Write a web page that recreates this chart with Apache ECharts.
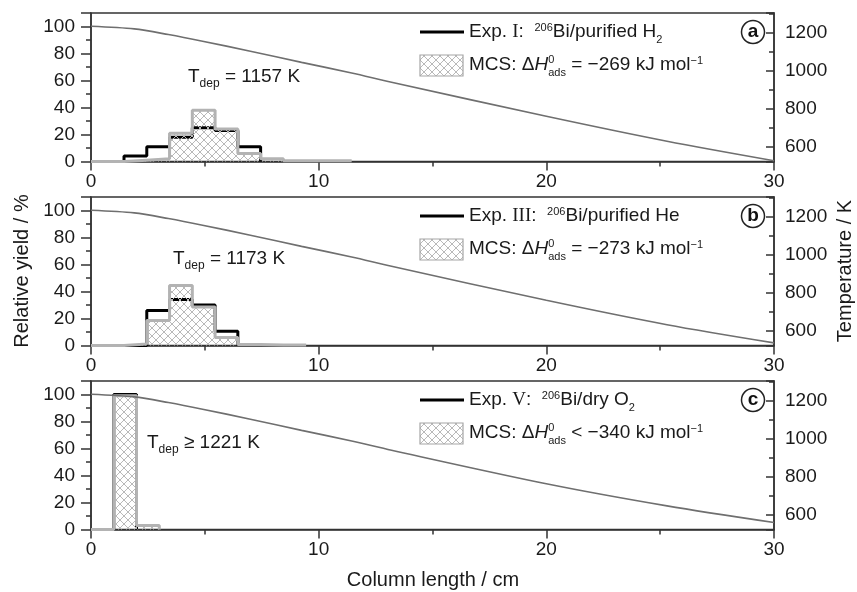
<!DOCTYPE html>
<html>
<head>
<meta charset="utf-8">
<script src="https://cdn.jsdelivr.net/npm/echarts@6/dist/echarts.min.js"></script>
<style>
html, body { margin: 0; padding: 0; background: #fff; }
#main { width: 857px; height: 592px; }
</style>
</head>
<body>
<div id="main"></div>
<script>
// temperature gradient along the column (cm -> K)
const tempCm = [0, 1.9, 3.4, 4.9, 7.0, 9.25, 11.45, 13.2, 20, 25.3, 30];
const tempA = [1235, 1221, 1191, 1156, 1103, 1044, 988, 939, 759, 627, 524];
const tempB = [1235, 1221, 1191, 1156, 1103, 1044, 988, 939, 759, 630, 534];
const tempC = [1235, 1221, 1191, 1156, 1103, 1044, 988, 939, 762, 645, 557];

// histograms: first bin edge (cm), bin width 1 cm, relative yield in %
const binWidth = 1;
const expStartA = 1.45;
const expA = [4, 11, 18, 25, 23, 11];
const mcsStartA = 1.45;
const mcsA = [1, 2, 21, 38, 24, 6, 2, 0.5, 0.5, 0.5];

const expStartB = 1.45;
const expB = [0, 26, 34, 30, 10.5];
const mcsStartB = 1.45;
const mcsB = [1.2, 18.5, 44.5, 28.5, 6, 0.7, 0.4, 0.4];

const expStartC = 1.0;
const expC = [100];
const mcsStartC = 1.0;
const mcsC = [99, 3];

const xTicks = [0, 10, 20, 30];
const panelNames = ['a', 'b', 'c'];
const expRoman = ['I', 'III', 'V'];
const expGas = [['Bi/purified H', '2'], ['Bi/purified He', ''], ['Bi/dry O', '2']];
const mcsRel = ['=', '=', '<'];
const mcsDH = ['269', '273', '340'];
const tdepRel = ['=', '=', '≥'];
const tdepVal = ['1157', '1173', '1221'];

const SANS = "'Liberation Sans', Arial, sans-serif";
const SERIF = "'Liberation Serif', 'Times New Roman', serif";
const AX = '#333';
const TXT = '#1a1a1a';

const chart = echarts.init(document.getElementById('main'));

function hatchCanvas() {
    const c = document.createElement('canvas');
    c.width = 8; c.height = 8;
    const g = c.getContext('2d');
    g.strokeStyle = '#b9b9b9';
    g.lineWidth = 1;
    g.beginPath();
    g.moveTo(0, 0); g.lineTo(8, 8);
    g.moveTo(8, 0); g.lineTo(0, 8);
    g.stroke();
    return c;
}
const hatch = hatchCanvas();

function steps(start, vals, fromZero) {
    const pts = [];
    if (fromZero) pts.push([0, 0]);
    pts.push([start, 0]);
    vals.forEach(function (v, i) {
        pts.push([start + i * binWidth, v]);
        pts.push([start + (i + 1) * binWidth, v]);
    });
    pts.push([start + vals.length * binWidth, 0]);
    return pts;
}

const tops = [13, 197, 381];
const gridH = 148.5;
const temps = [tempA, tempB, tempC];
const exps = [[expStartA, expA], [expStartB, expB], [expStartC, expC]];
const mcss = [[mcsStartA, mcsA], [mcsStartB, mcsB], [mcsStartC, mcsC]];

const grids = [], xAxes = [], yAxes = [], series = [], graphics = [];

const rich = {
    n: {fontSize: 19, fontFamily: SANS, lineHeight: 26, fill: TXT},
    r: {fontSize: 19, fontFamily: SERIF, lineHeight: 26, fill: TXT},
    i: {fontSize: 19, fontFamily: SANS, fontStyle: 'italic', lineHeight: 26, fill: TXT},
    sup: {fontSize: 11, fontFamily: SANS, lineHeight: 12, padding: [3, 0, 0, 0], verticalAlign: 'top', fill: TXT},
    sup0: {fontSize: 11, fontFamily: SANS, lineHeight: 12, padding: [2, 0, 0, 0], verticalAlign: 'top', width: 0, fill: TXT},
    sub: {fontSize: 11, fontFamily: SANS, lineHeight: 12, verticalAlign: 'bottom', fill: TXT},
    t: {fontSize: 19, fontFamily: SANS, lineHeight: 26, fill: TXT},
    ts: {fontSize: 12, fontFamily: SANS, lineHeight: 10, verticalAlign: 'bottom', fill: TXT}
};

for (let p = 0; p < 3; p++) {
    const top = tops[p];
    grids.push({left: 91, width: 683, top: top, height: gridH, show: true,
        borderColor: AX, borderWidth: 1.5, backgroundColor: 'transparent'});

    xAxes.push({
        type: 'value', gridIndex: p, min: xTicks[0], max: xTicks[xTicks.length - 1], interval: 10,
        axisLine: {lineStyle: {color: AX, width: 1.5}},
        axisTick: {length: 9, lineStyle: {color: AX, width: 1.5}},
        minorTick: {show: true, splitNumber: 2, length: 5, lineStyle: {color: AX, width: 1.5}},
        axisLabel: {margin: 11, fontSize: 19, fontFamily: SANS, color: TXT},
        splitLine: {show: false}
    });

    // left: relative yield
    yAxes.push({
        type: 'value', gridIndex: p, position: 'left', min: 0, max: 110, interval: 20,
        axisLine: {show: true, lineStyle: {color: AX, width: 1.5}},
        axisTick: {length: 10, lineStyle: {color: AX, width: 1.5}},
        axisLabel: {margin: 16, fontSize: 19, fontFamily: SANS, color: TXT,
            formatter: function (v) { return v <= 100 ? String(v) : ''; }},
        splitLine: {show: false}
    });
    yAxes.push({
        type: 'value', gridIndex: p, position: 'left', min: 0, max: 110, interval: 10,
        axisLine: {show: false},
        axisTick: {length: 5, lineStyle: {color: AX, width: 1.5}},
        axisLabel: {show: false},
        splitLine: {show: false}
    });
    // right: temperature
    yAxes.push({
        type: 'value', gridIndex: p, position: 'right', min: 520, max: 1305, splitNumber: 4,
        axisLine: {show: true, lineStyle: {color: AX, width: 1.5}},
        axisTick: {inside: true, length: 8, lineStyle: {color: AX, width: 1.5}},
        axisLabel: {margin: 11, fontSize: 19, fontFamily: SANS, color: TXT,
            formatter: function (v) { return v % 200 === 0 ? String(v) : ''; }},
        splitLine: {show: false}
    });
    yAxes.push({
        type: 'value', gridIndex: p, position: 'right', min: 520, max: 1305, splitNumber: 8,
        axisLine: {show: false},
        axisTick: {inside: true, length: 5, lineStyle: {color: AX, width: 1.5}},
        axisLabel: {show: false},
        splitLine: {show: false}
    });

    const yl = p * 4, yr = p * 4 + 2;

    series.push({
        type: 'line', xAxisIndex: p, yAxisIndex: yr, z: 5,
        data: tempCm.map(function (x, i) { return [x, temps[p][i]]; }),
        smooth: 0.3, showSymbol: false,
        lineStyle: {color: '#6f6f6f', width: 1.6}
    });
    series.push({
        type: 'line', xAxisIndex: p, yAxisIndex: yl, z: 2,
        data: steps(exps[p][0], exps[p][1], false),
        showSymbol: false,
        lineStyle: {color: '#000', width: 3}
    });
    series.push({
        type: 'line', xAxisIndex: p, yAxisIndex: yl, z: 3,
        data: steps(mcss[p][0], mcss[p][1], true),
        showSymbol: false,
        lineStyle: {color: '#b3b3b3', width: 3},
        areaStyle: {color: {image: hatch, repeat: 'repeat'}, opacity: 1}
    });

    // legend
    const ly1 = top + 19, ly2 = top + 52;
    graphics.push({type: 'line', shape: {x1: 420, y1: ly1, x2: 464, y2: ly1},
        style: {stroke: '#000', lineWidth: 3}});
    const gas = expGas[p];
    graphics.push({type: 'text', x: 469, y: ly1, style: {
        text: '{n|Exp. }{r|' + expRoman[p] + '}{n|:  }{sup|206}{n|' + gas[0] + '}' + (gas[1] ? '{sub|' + gas[1] + '}' : ''),
        rich: rich, verticalAlign: 'middle', align: 'left'}});
    graphics.push({type: 'rect', shape: {x: 420, y: top + 42, width: 43, height: 21},
        style: {fill: {image: hatch, repeat: 'repeat'}, stroke: '#a6a6a6', lineWidth: 1.2}});
    graphics.push({type: 'text', x: 469, y: ly2, style: {
        text: '{n|MCS: Δ}{i|H}{sup0|0}{sub|ads}{n| ' + mcsRel[p] + ' −' + mcsDH[p] + ' kJ mol}{sup|−1}',
        rich: rich, verticalAlign: 'middle', align: 'left'}});

    // panel letter
    graphics.push({type: 'circle', shape: {cx: 753, cy: top + 19, r: 11.5},
        style: {fill: '#fff', stroke: '#222', lineWidth: 1.5}});
    graphics.push({type: 'text', x: 753, y: top + 19, style: {
        text: panelNames[p], font: 'bold 19px ' + SANS, fill: '#111',
        align: 'center', verticalAlign: 'middle'}});
}

// T_dep annotations
const tdepPos = [[188, 77], [173, 259], [147, 443]];
for (let p = 0; p < 3; p++) {
    graphics.push({type: 'text', x: tdepPos[p][0], y: tdepPos[p][1], style: {
        text: '{t|T}{ts|dep}{t| ' + tdepRel[p] + ' ' + tdepVal[p] + ' K}',
        rich: rich, verticalAlign: 'middle', align: 'left'}});
}

// axis titles
graphics.push({type: 'text', x: 22, y: 271, rotation: Math.PI / 2, style: {
    text: 'Relative yield / %', font: '20px ' + SANS, fill: TXT, align: 'center', verticalAlign: 'middle'}});
graphics.push({type: 'text', x: 845, y: 271, rotation: Math.PI / 2, style: {
    text: 'Temperature / K', font: '20px ' + SANS, fill: TXT, align: 'center', verticalAlign: 'middle'}});
graphics.push({type: 'text', x: 433, y: 580, style: {
    text: 'Column length / cm', font: '20px ' + SANS, fill: TXT, align: 'center', verticalAlign: 'middle'}});

chart.setOption({
    backgroundColor: '#fff',
    animation: false,
    grid: grids,
    xAxis: xAxes,
    yAxis: yAxes,
    series: series,
    graphic: graphics
});
</script>
</body>
</html>
